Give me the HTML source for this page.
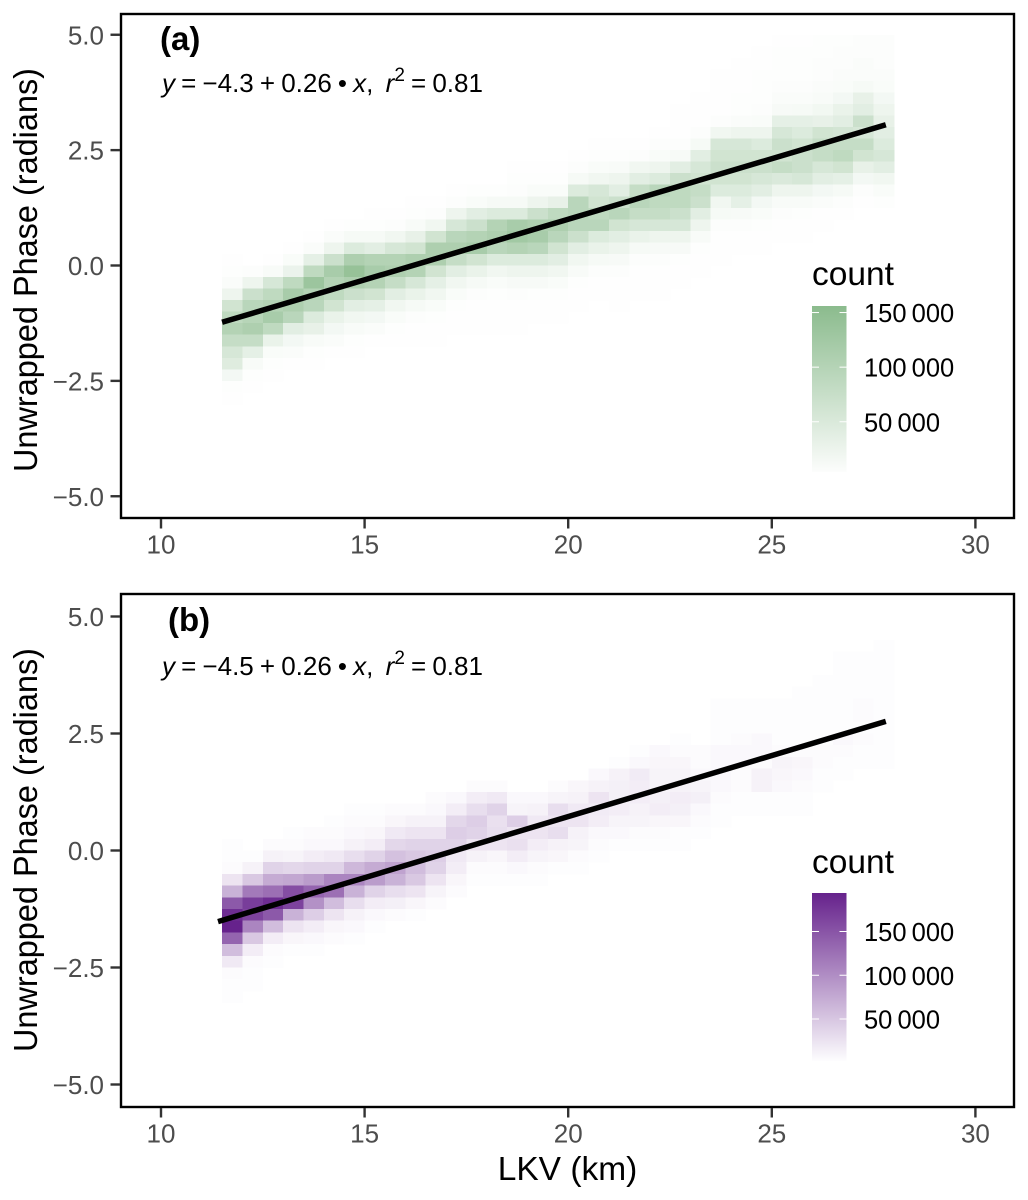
<!DOCTYPE html>
<html lang="en">
<head>
<meta charset="utf-8">
<title>Unwrapped Phase vs LKV</title>
<style>
html,body{margin:0;padding:0;background:#fff;width:1028px;height:1200px;overflow:hidden}
svg{display:block;font-family:"Liberation Sans",sans-serif}
.tick{fill:#4d4d4d;font-size:26px}
.title{fill:#000;font-size:33.5px}
.leg{fill:#000;font-size:25.5px}
.eq{fill:#000;font-size:26px;word-spacing:-1.1px}
.tag{fill:#000;font-size:33px;font-weight:bold}
</style>
</head>
<body>
<svg id="chart" xmlns="http://www.w3.org/2000/svg" width="1028" height="1200" viewBox="0 0 1028 1200"></svg>
<script>
// Tick labels
const xTicks = [10, 15, 20, 25, 30];
const yTicks = [5, 2.5, 0, -2.5, -5];
const legendTicksA = [150000, 100000, 50000];
const legendTicksB = [150000, 100000, 50000];

// Histogram bins
const binStartKm = 11.5;
const binWidthKm = 0.5;
const binHeightRad = 0.25;

// Colour-bar limits
const countMinA = 4000;
const countMaxA = 156000;
const countMinB = 2000;
const countMaxB = 194000;

// Fit line end points
const fitKmA = [11.5, 27.8];
const fitPhaseA = [-1.23, 3.05];
const fitKmB = [11.4, 27.8];
const fitPhaseB = [-1.52, 2.76];

// Top phase bin of each LKV column (bin k spans k*0.25 .. (k+1)*0.25 rad)
const topBinA = [0,-1,0,1,2,3,3,4,4,5,5,6,6,6,8,8,8,9,10,10,10,11,13,14,16,17,18,19,19,19,19,19,19];
// Counts per column as % of the colour-bar maximum, from the top bin downward
const countsA = [
[1,2,4,15,40,55,65,50,35,28,10,2,1],
[3,15,45,60,62,70,50,22,6,2,1],
[1,6,35,55,65,75,55,18,5,2,1],
[1,5,17,55,75,70,60,25,10,4,1],
[1,4,22,55,85,65,60,30,20,6,2,1],
[1,4,15,45,75,65,55,40,18,10,4,1],
[2,8,30,70,90,70,45,25,12,6,2,1],
[1,2,8,25,65,75,65,40,22,10,4,1],
[1,3,12,35,65,70,50,25,12,5,2,1],
[1,2,6,20,40,70,65,35,18,8,3,1,1],
[1,3,12,40,70,70,40,22,12,5,2,1,1],
[1,3,15,35,60,70,50,25,12,5,2,1,1],
[2,5,25,45,65,75,40,18,8,3,1,1,1],
[2,8,30,65,70,60,30,12,5,2,1,1,1],
[1,2,3,8,30,75,80,65,30,15,7,3,1,1,1],
[1,2,5,15,45,70,75,60,30,15,7,2,1,1],
[1,2,5,20,55,70,60,40,25,12,5,2,1,1],
[1,3,8,30,60,60,60,45,25,12,6,2,1,1],
[1,2,5,12,35,40,55,60,30,18,8,3,1,1],
[1,2,6,15,25,45,60,40,25,15,7,3,1,1,1],
[1,3,12,25,50,60,50,35,18,8,3,1,1,1],
[1,3,5,15,30,60,55,50,35,15,7,3,1,1,1],
[1,1,1,3,7,25,45,55,55,45,35,15,7,2,1,1],
[1,1,1,3,8,25,35,40,50,45,25,15,6,2,1,1],
[1,1,1,1,3,12,35,40,45,40,30,12,8,3,1,1,1],
[1,1,1,2,2,4,15,35,40,45,40,30,22,7,3,1,1],
[1,1,2,2,2,3,5,15,30,40,45,35,25,10,5,2,1,1],
[1,2,2,2,3,4,7,22,35,45,40,50,32,15,6,3,1,1],
[1,2,2,2,3,4,8,22,30,40,45,45,35,15,6,2,1,1],
[2,2,3,3,4,6,11,20,40,50,50,35,25,10,4,1,1],
[2,3,3,4,5,10,18,25,38,50,55,40,22,8,3,1],
[3,3,4,4,8,20,25,45,35,50,40,20,10,3,1],
[3,3,3,4,5,10,15,20,25,30,35,25,12,5,2]
];

const topBinB = [0,-1,0,1,1,2,3,3,3,3,4,4,5,5,4,4,5,5,6,7,8,8,9,8,12,12,12,12,13,14,16,16,17];
const countsB = [
[1,1,2,12,35,75,95,100,70,30,10,2,1,1],
[1,6,25,60,88,85,55,25,8,2,1,1],
[2,6,20,38,65,95,75,30,8,2,1],
[1,2,5,18,40,80,85,35,12,4,1],
[2,3,8,20,45,70,50,22,8,3,1],
[1,2,3,10,20,55,65,30,12,4,2],
[1,2,3,6,15,32,55,35,15,6,3,1],
[1,2,4,8,20,38,45,20,8,3,1],
[2,4,10,18,28,42,35,15,7,2],
[2,6,12,20,25,30,25,12,4,1],
[2,3,6,12,20,22,20,12,5,2],
[3,8,18,22,20,10,8,4,2],
[2,8,15,22,20,12,6,2,1],
[2,10,20,14,15,12,4,2,1],
[3,5,22,12,14,8,3,1],
[3,6,10,12,8,5,2,1],
[2,5,15,12,15,6,4,1],
[4,6,10,12,6,5,2,1],
[3,6,12,9,8,3,2,1],
[1,6,7,7,8,5,3,1],
[1,3,9,8,8,6,5,2,1],
[3,4,5,5,7,8,4,2,1],
[1,2,4,5,6,8,7,4,1,1],
[2,2,3,5,7,3,2,1],
[1,1,1,1,3,3,3,3,2,1,1],
[1,1,1,2,3,3,2,2,1,1],
[1,1,1,3,3,2,6,6,1,1],
[1,1,1,1,2,5,4,3,1,1],
[1,1,1,1,1,2,4,3,2,1,1],
[1,1,1,1,1,1,2,2,1,1],
[1,1,1,1,1,1,1,3,2,1,1],
[1,1,1,1,2,2,1,2,1,1],
[1,1,1,1,1,1,1,1,1,1,1]
];

const SVGNS = 'http://www.w3.org/2000/svg';
const chart = document.getElementById('chart');

function make(tag, attrs, parent, text) {
  const el = document.createElementNS(SVGNS, tag);
  for (const k in attrs) el.setAttribute(k, attrs[k]);
  if (text !== undefined) el.textContent = text;
  (parent || chart).appendChild(el);
  return el;
}
function formatCount(v) {
  const s = String(v);
  return s.slice(0, -3) + '\u2009' + s.slice(-3);
}
function formatPhase(v) {
  return (v < 0 ? '\u2212' : '') + Math.abs(v).toFixed(1);
}
function mix(rgb, t) {
  const c = Math.max(0, Math.min(1, t));
  return 'rgb(' + rgb.map(function (v) { return Math.round(255 + (v - 255) * c); }).join(',') + ')';
}

function drawPanel(cfg) {
  const g = make('g', {});
  
  
  const xPos = function (km) { return cfg.x0 + (km - 10) * cfg.xk; };
  const yPos = function (ph) { return cfg.y0 - ph * cfg.yk; };

  // heatmap
  const heat = make('g', { 'shape-rendering': 'crispEdges' }, g);
  
  
  cfg.counts.forEach(function (col, c) {
    col.forEach(function (pct, i) {
      const k = cfg.topBin[c] - i;
      const x1 = xPos(binStartKm + c * binWidthKm);
      const x2 = xPos(binStartKm + (c + 1) * binWidthKm);
      const y1 = yPos((k + 1) * binHeightRad);
      const y2 = yPos(k * binHeightRad);
      const cell = make('rect', {
        x: x1, y: y1, width: x2 - x1 + 0.4, height: y2 - y1 + 0.4,
        fill: mix(cfg.rgb, pct / 100)
      }, heat);
      
      
    });
  });

  // fit line
  const fit = make('line', {
    x1: xPos(cfg.fitKm[0]), y1: yPos(cfg.fitPhase[0]),
    x2: xPos(cfg.fitKm[1]), y2: yPos(cfg.fitPhase[1]),
    stroke: '#000', 'stroke-width': 5.5
  }, g);
  
  

  // frame
  const frame = make('rect', {
    x: cfg.left, y: cfg.top, width: cfg.right - cfg.left, height: cfg.bottom - cfg.top,
    fill: 'none', stroke: '#000', 'stroke-width': 2.4
  }, g);
  
  

  // x axis
  xTicks.forEach(function (v) {
    const t = make('line', { x1: xPos(v), x2: xPos(v), y1: cfg.bottom + 1, y2: cfg.bottom + 10.5, stroke: '#333', 'stroke-width': 2.4 }, g);
    
    
    const l = make('text', { x: xPos(v), y: cfg.bottom + 35.5, 'text-anchor': 'middle', class: 'tick' }, g, String(v));
    
    
  });

  // y axis
  yTicks.forEach(function (v) {
    const t = make('line', { x1: cfg.left - 10.5, x2: cfg.left - 1, y1: yPos(v), y2: yPos(v), stroke: '#333', 'stroke-width': 2.4 }, g);
    
    
    const l = make('text', { x: 104, y: yPos(v) + 9.5, 'text-anchor': 'end', class: 'tick' }, g, formatPhase(v));
    
    
  });

  const yTitle = make('text', {
    x: 0, y: 0, class: 'title', 'text-anchor': 'middle',
    textLength: 404, lengthAdjust: 'spacingAndGlyphs',
    transform: 'translate(37,' + cfg.yTitleMid + ') rotate(-90)'
  }, g, 'Unwrapped Phase (radians)');
  
  

  // panel tag
  const tag = make('text', { x: cfg.tagX, y: cfg.tagY, class: 'tag' }, g, cfg.tag);
  
  

  // equation
  const eq = make('text', { x: 162, y: cfg.eqY, class: 'eq' }, g);
  
  
  make('tspan', { 'font-style': 'italic' }, eq, 'y');
  make('tspan', {}, eq, ' = ' + cfg.intercept + ' + 0.26 \u2022 ');
  make('tspan', { 'font-style': 'italic' }, eq, 'x');
  make('tspan', {}, eq, ',\u00a0\u00a0');
  make('tspan', { 'font-style': 'italic' }, eq, 'r');
  make('tspan', { 'font-size': '19px', dy: -11 }, eq, '2');
  make('tspan', { dy: 11 }, eq, ' = 0.81');

  // legend
  const legendTitle = make('text', { x: 812, y: cfg.legTitleY, class: 'title' }, g, 'count');
  
  
  const gradId = 'grad-' + cfg.tag.charAt(1);
  const defs = make('defs', {}, g);
  const grad = make('linearGradient', { id: gradId, x1: 0, y1: 0, x2: 0, y2: 1 }, defs);
  make('stop', { offset: '0', 'stop-color': mix(cfg.rgb, 1) }, grad);
  make('stop', { offset: '1', 'stop-color': mix(cfg.rgb, cfg.countMin / cfg.countMax) }, grad);
  const legY = function (v) {
    return cfg.legBottom - (v - cfg.countMin) / (cfg.countMax - cfg.countMin) * (cfg.legBottom - cfg.legTop);
  };
  const bar = make('rect', { x: 812, y: cfg.legTop, width: 34.5, height: cfg.legBottom - cfg.legTop, fill: 'url(#' + gradId + ')' }, g);
  
  
  cfg.legTicks.forEach(function (v) {
    const y = legY(v);
    const t1 = make('line', { x1: 812, x2: 819, y1: y, y2: y, stroke: '#fff', 'stroke-width': 1 }, g);
    
    
    const t2 = make('line', { x1: 839.5, x2: 846.5, y1: y, y2: y, stroke: '#fff', 'stroke-width': 1 }, g);
    
    
    const lab = make('text', { x: 864, y: y + 9.5, class: 'leg' }, g, formatCount(v));
    
    
  });
}

drawPanel({
  name: 'panel-a', tag: '(a)', intercept: '\u22124.3',
  left: 121, right: 1014, top: 14, bottom: 518,
  x0: 161, xk: 40.72, y0: 265.5, yk: 46.15,
  topBin: topBinA, counts: countsA, rgb: [139, 187, 141],
  fitKm: fitKmA, fitPhase: fitPhaseA,
  tagX: 160, tagY: 50, eqY: 92, yTitleMid: 270,
  legTitleY: 285, legTop: 306, legBottom: 472,
  legTicks: legendTicksA, countMin: countMinA, countMax: countMaxA
});
drawPanel({
  name: 'panel-b', tag: '(b)', intercept: '\u22124.5',
  left: 121, right: 1014, top: 594, bottom: 1107,
  x0: 161, xk: 40.72, y0: 850.5, yk: 46.8,
  topBin: topBinB, counts: countsB, rgb: [102, 34, 140],
  fitKm: fitKmB, fitPhase: fitPhaseB,
  tagX: 168, tagY: 631, eqY: 675, yTitleMid: 850,
  legTitleY: 873, legTop: 893, legBottom: 1061,
  legTicks: legendTicksB, countMin: countMinB, countMax: countMaxB
});

const xTitle = make('text', { x: 567.5, y: 1180, 'text-anchor': 'middle', class: 'title' }, chart, 'LKV (km)');


</script>
</body>
</html>
